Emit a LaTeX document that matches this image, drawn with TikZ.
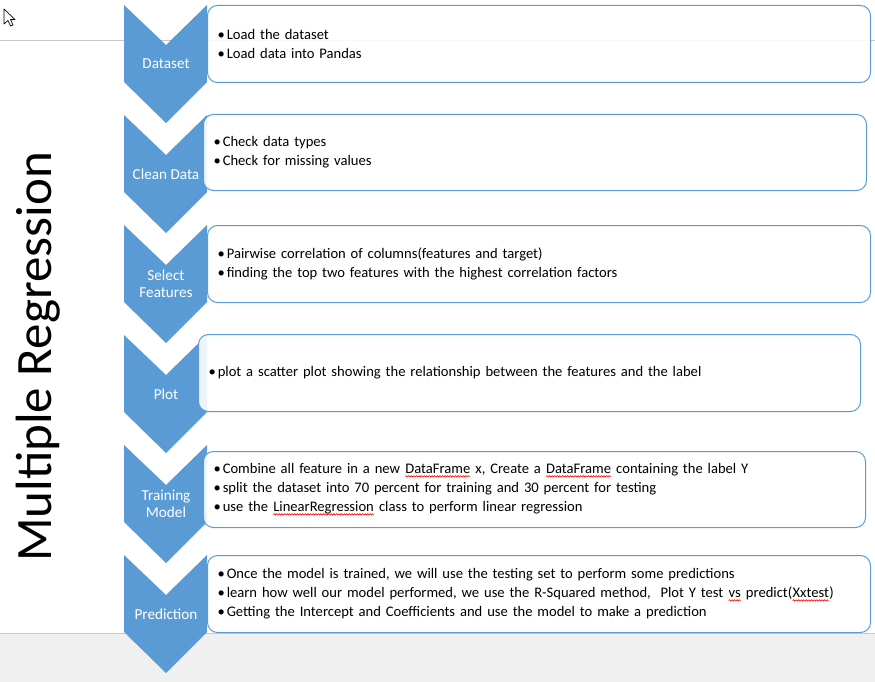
\documentclass[tikz,border=0pt]{standalone}
\usepackage{fontspec}
\setmainfont{Carlito}
\usetikzlibrary{calc}
\usetikzlibrary{positioning}
\usetikzlibrary{decorations.pathmorphing}

\definecolor{chevblue}{HTML}{5B9BD5}
\definecolor{bandgray}{HTML}{F0F0F0}
\definecolor{linegray}{HTML}{C8C8C8}
\newcommand{\boxfont}{\fontsize{14.6}{19}\selectfont}
\newcommand{\chevfont}{\fontsize{15.2}{17}\selectfont}
\newcommand{\bul}{\textbullet\hspace{2pt}}
\newcommand{\spellmark}[1]{\tikz[baseline=(sm.base)]{%
 \node (sm) [inner sep=0pt, outer sep=0pt, draw=none, fill=none, text width=, minimum height=0pt,
   minimum width=0pt, anchor=base, opacity=1] {#1};
 \draw[red, line width=.6pt, sharp corners, opacity=1, decorate, decoration={snake, amplitude=.7pt, segment length=2.6pt}]
  ([yshift=-2.6pt]sm.base west) -- ([yshift=-2.6pt]sm.base east);}}

\tikzset{
 chevron/.style={fill=chevblue, draw=none},
 chevlabel/.style={text=white, align=center, font=\chevfont, inner sep=0pt},
 infobox/.style={draw=chevblue, line width=1pt, rounded corners=10pt, fill=white,
   fill opacity=.9, text opacity=1, anchor=north west, inner xsep=10pt, inner ysep=0pt,
   align=left, font=\boxfont},
}

\begin{document}
\begin{tikzpicture}[x=1pt,y=-1pt]
\useasboundingbox (0,0) rectangle (875,682);
% window background
\fill[bandgray] (0,633) rectangle (875,682);
\draw[linegray] (0,633) -- (875,633);
\draw[linegray] (0,40) -- (875,40);
\draw[black, line width=.7pt, fill=white, line join=round]
 (4,9) -- (4,24) -- (8,20.5) -- (10.5,26) -- (13,25) -- (10.5,19.5) -- (15,19.5) -- cycle;
% title
\node (title) [rotate=90, anchor=base, font=\fontsize{51}{51}\selectfont] at (51,357) {Multiple Regression};
% chevrons
\foreach \y/\lab [count=\i] in {5/Dataset, 115/Clean Data, 225/{Select\\Features}, 335/Plot, 445/{Training\\Model}, 555/Prediction} {
 \fill[chevron] (124,\y) -- (166,\y+40) -- (207,\y) -- (207,\y+77) -- (166,\y+118) -- (124,\y+77) -- cycle;
 \node (chev\i) [chevlabel] at (166,\y+59) {\lab};
}
% text boxes
\node (box1) [infobox, text width=643pt, minimum height=77pt] at (207,5)
 {\bul Load the dataset\\ \bul Load data into Pandas};
\node (box2) [infobox, text width=643pt, minimum height=76pt] at (203,114)
 {\bul Check data types\\ \bul Check for missing values};
\node (box3) [infobox, text width=643pt, minimum height=77pt] at (207,225)
 {\bul Pairwise correlation of columns(features and target)\\
  \bul finding the top two features with the highest correlation factors};
\node (box4) [infobox, text width=642pt, minimum height=77pt] at (198,334)
 {\bul plot a scatter plot showing the relationship between the features and the label};
\node (box5) [infobox, text width=642pt, minimum height=76pt] at (203,451)
 {\bul Combine all feature in a new \spellmark{DataFrame} x, Create a \spellmark{DataFrame} containing the label Y\\
  \bul split the dataset into 70 percent for training and 30 percent for testing\\
  \bul use the \spellmark{LinearRegression} class to perform linear regression};
\node (box6) [infobox, text width=643pt, minimum height=77pt] at (207,555)
 {\bul Once the model is trained, we will use the testing set to perform some predictions\\
  \bul learn how well our model performed, we use the R-Squared method,\ \ Plot Y test \spellmark{vs} predict(\spellmark{Xxtest})\\
  \bul Getting the Intercept and Coefficients and use the model to make a prediction};
\end{tikzpicture}
\end{document}
